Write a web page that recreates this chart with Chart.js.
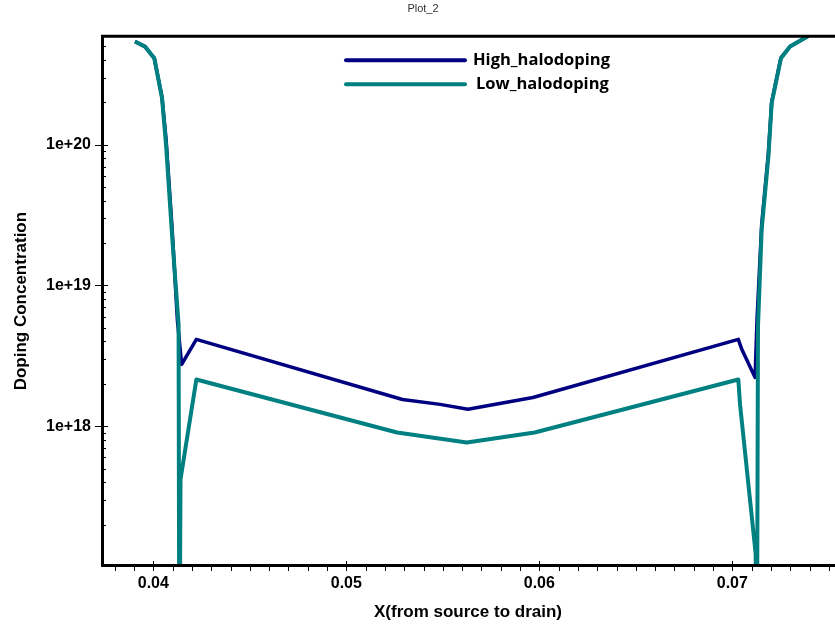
<!DOCTYPE html>
<html>
<head>
<meta charset="utf-8">
<script src="https://cdn.jsdelivr.net/npm/chart.js@4.4.0/dist/chart.umd.min.js"></script>
<style>
  html, body { margin: 0; padding: 0; background: #fff; }
</style>
</head>
<body>
<canvas id="plot" width="835" height="628"></canvas>
<script>
// doping profile along the channel
const highX = [0.03905, 0.03957, 0.04005, 0.04045, 0.04066, 0.04097, 0.04125, 0.04147, 0.04223,
  0.05291, 0.05486, 0.05630, 0.05967, 0.07031, 0.07049, 0.07118, 0.07128,
  0.07152, 0.07187, 0.07204, 0.07252, 0.07299, 0.07394];
const highY = [5.41e20, 4.98e20, 4.12e20, 2.18e20, 1.1e20, 2.6e19, 5.6e18, 2.75e18, 4.14e18,
  1.55e18, 1.43e18, 1.32e18, 1.60e18, 4.14e18, 3.52e18, 2.22e18, 5.74e18,
  2.7e19, 8.8e19, 2.02e20, 4.14e20, 4.99e20, 5.93e20];

const lowX = [0.03905, 0.03957, 0.04005, 0.04045, 0.04066, 0.04097, 0.04131, 0.04135, 0.04141, 0.04223,
  0.05263, 0.05624, 0.05976, 0.07031, 0.07040, 0.07121, 0.07127, 0.07133,
  0.07152, 0.07187, 0.07204, 0.07252, 0.07299, 0.07394];
const lowY = [5.41e20, 4.98e20, 4.12e20, 2.15e20, 1.0e20, 2.3e19, 5.28e18, 1e16, 4.2e17, 2.15e18,
  9.02e17, 7.66e17, 9.02e17, 2.15e18, 1.43e18, 1.24e17, 1e16, 5.14e18,
  2.49e19, 8.26e19, 1.98e20, 4.12e20, 4.98e20, 5.93e20];

const seriesNames = ["High_halodoping", "Low_halodoping"];
const seriesColors = ["#000080", "#008080"];
const xMajorTicks = [0.04, 0.05, 0.06, 0.07];
const yMajorTicks = [1e18, 1e19, 1e20];

const toPoints = (xs, ys) => xs.map((x, i) => ({ x, y: ys[i] }));

const tickFont = { family: "'Liberation Sans', Arial, sans-serif", size: 16, weight: "bold" };
const titleFont = { family: "'Liberation Sans', Arial, sans-serif", size: 17, weight: "bold" };

// frame, tick marks and the in-plot legend
const framePlugin = {
  id: "frame",
  afterDraw(chart) {
    const { ctx, chartArea: a, scales: { x, y } } = chart;
    ctx.save();
    ctx.strokeStyle = "#000";
    ctx.lineWidth = 1;
    ctx.beginPath();
    for (let i = Math.ceil(x.min * 1000); i <= x.max * 1000; i++) {
      const px = Math.round(x.getPixelForValue(i / 1000)) + 0.5;
      const major = i % 10 === 0;
      ctx.moveTo(px, a.bottom + 4);
      ctx.lineTo(px, a.bottom - (major ? 6 : 0));
    }
    for (let e = 17; e <= 20; e++) {
      for (let m = 1; m <= 9; m++) {
        const v = m * Math.pow(10, e);
        if (v <= y.min || v >= y.max) continue;
        const py = Math.round(y.getPixelForValue(v)) + 0.5;
        ctx.moveTo(a.left - (m === 1 ? 6 : 0), py);
        ctx.lineTo(a.left + (m === 1 ? 7 : 5), py);
      }
    }
    ctx.stroke();

    ctx.lineWidth = 3;
    ctx.beginPath();
    ctx.moveTo(a.right + 2, a.top + 1);
    ctx.lineTo(a.left + 1.5, a.top + 1);
    ctx.lineTo(a.left + 1.5, a.bottom - 1.5);
    ctx.lineTo(a.right + 2, a.bottom - 1.5);
    ctx.stroke();

    // legend
    ctx.font = "bold 16.5px 'Open Sans', 'Noto Sans', sans-serif";
    ctx.textBaseline = "middle";
    ctx.lineCap = "round";
    seriesNames.forEach((name, i) => {
      const ly = a.top + 25 + i * 24;
      ctx.strokeStyle = seriesColors[i];
      ctx.lineWidth = 4;
      ctx.beginPath();
      ctx.moveTo(a.left + 245, ly);
      ctx.lineTo(a.left + 364, ly);
      ctx.stroke();
      ctx.fillStyle = "#000";
      ctx.fillText(name, a.left + 372 + i * 3, ly);
    });
    ctx.restore();
  }
};

new Chart(document.getElementById("plot"), {
  type: "line",
  data: {
    datasets: [
      {
        label: seriesNames[0],
        data: toPoints(highX, highY),
        borderColor: seriesColors[0],
        borderWidth: 3.5,
        borderJoinStyle: "round",
        pointRadius: 0,
        tension: 0,
        clip: 0,
        order: 1
      },
      {
        label: seriesNames[1],
        data: toPoints(lowX, lowY),
        borderColor: seriesColors[1],
        borderWidth: 4,
        borderJoinStyle: "round",
        pointRadius: 0,
        tension: 0,
        clip: 0,
        order: 0
      }
    ]
  },
  options: {
    responsive: false,
    animation: false,
    layout: { padding: { left: 11, right: 0, top: 0, bottom: 0 } },
    plugins: {
      legend: { display: false },
      tooltip: { enabled: false },
      title: {
        display: true,
        text: "Plot_2",
        color: "#333",
        font: { family: "'Liberation Sans', Arial, sans-serif", size: 11, weight: "normal" },
        padding: { top: 2, bottom: 20 }
      }
    },
    scales: {
      x: {
        type: "linear",
        min: 0.03729,
        max: 0.07532,
        afterBuildTicks: s => { s.ticks = xMajorTicks.map(v => ({ value: v })); },
        afterFit: s => { s.height = 61; },
        grid: { display: false, drawTicks: false },
        border: { display: false },
        ticks: { padding: 7, color: "#000", font: tickFont, maxRotation: 0, callback: v => v.toFixed(2) },
        title: { display: true, text: "X(from source to drain)", color: "#000", font: titleFont, padding: { top: 0, bottom: 5 } }
      },
      y: {
        type: "logarithmic",
        min: 1e17,
        max: 6e20,
        afterBuildTicks: s => { s.ticks = yMajorTicks.map(v => ({ value: v })); },
        afterFit: s => { s.width = 90; },
        grid: { display: false, drawTicks: false },
        border: { display: false },
        ticks: { padding: 10, color: "#000", font: tickFont, callback: v => "1e+" + Math.round(Math.log10(v)) },
        title: { display: true, text: "Doping Concentration", color: "#000", font: titleFont, padding: { top: 0, bottom: 0 } }
      }
    }
  },
  plugins: [framePlugin]
});
</script>
</body>
</html>
